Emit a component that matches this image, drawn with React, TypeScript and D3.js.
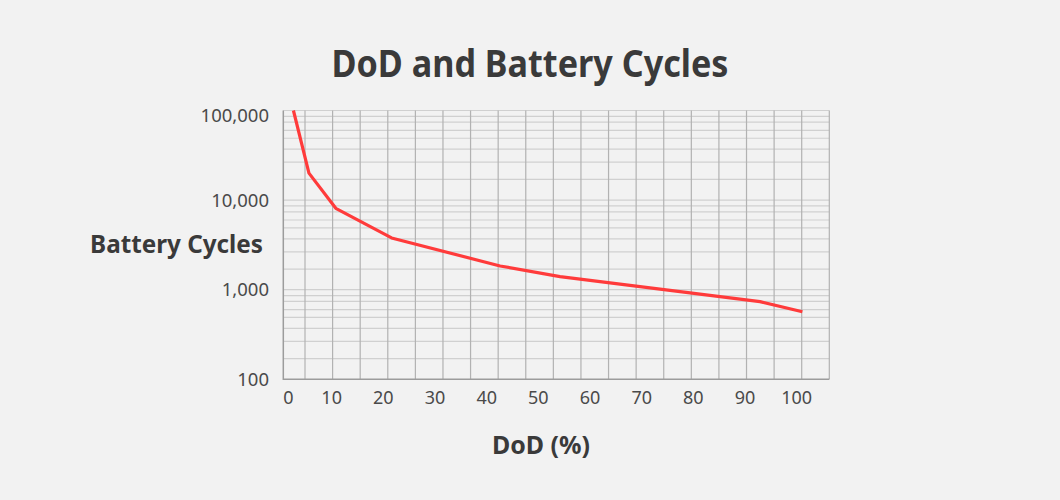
import { useEffect, useRef } from "react";
import * as d3 from "d3";

// Valeurs
const dodValues = [2.6, 5.6, 10.8, 21.6, 42.6, 54.2, 92.9, 101.1];
const cycleValues = [100000, 20000, 8100, 3780, 1840, 1400, 735, 568];
const xTickValues = [0, 10, 20, 30, 40, 50, 60, 70, 80, 90, 100];
const yTickValues = [100, 1000, 10000, 100000];
const minorSteps = [1.7, 2.65, 3.7, 4.9, 6, 7.4, 8.6];
const gridColumns = d3.range(20);

const App = () => {
	const svgRef = useRef<SVGSVGElement>(null);

	useEffect(() => {
		if (!svgRef.current) return;

		const width = 1060;
		const height = 500;
		const frame = { left: 283.3, right: 829.3, top: 110.5, bottom: 379.3 };
		const font = "'Noto Sans', 'Open Sans', sans-serif";

		const svg = d3.select(svgRef.current).attr("width", width).attr("height", height);
		svg.selectAll("*").remove();

		svg.append("rect").attr("width", width).attr("height", height).attr("fill", "#f2f2f2");

		// Échelles
		const xScale = d3.scaleLinear().domain([0, 100]).range([280, 796.7]);
		const yScale = d3.scaleLog().domain([100, 100000]).range([frame.bottom, frame.top]);
		const gridScale = d3.scaleLinear().domain([0, 19]).range([305, frame.right]);

		// Lignes horizontales mineures
		const minorLines: number[] = [];
		yTickValues.slice(0, -1).forEach((decade) => {
			minorSteps.forEach((m) => minorLines.push(decade * m));
		});

		svg
			.append("g")
			.selectAll("line")
			.data([...minorLines, ...yTickValues.slice(1)])
			.enter()
			.append("line")
			.attr("x1", frame.left)
			.attr("x2", frame.right)
			.attr("y1", (d) => yScale(d))
			.attr("y2", (d) => yScale(d))
			.attr("stroke", "#d0d0d0")
			.attr("stroke-width", 1.2);

		// Lignes verticales
		svg
			.append("g")
			.selectAll("line")
			.data(gridColumns)
			.enter()
			.append("line")
			.attr("x1", (d) => gridScale(d))
			.attr("x2", (d) => gridScale(d))
			.attr("y1", frame.top)
			.attr("y2", frame.bottom)
			.attr("stroke", "#b2b2b2")
			.attr("stroke-width", 1.2);

		// Axes
		svg
			.append("path")
			.attr("d", `M${frame.left},${frame.top}V${frame.bottom}H${frame.right}`)
			.attr("fill", "none")
			.attr("stroke", "#9c9c9c")
			.attr("stroke-width", 1.5);

		// Étiquettes Y
		svg
			.append("g")
			.selectAll("text")
			.data(yTickValues)
			.enter()
			.append("text")
			.attr("x", 269)
			.attr("y", (d) => Math.max(yScale(d), frame.top + 4.5))
			.attr("dy", "0.36em")
			.attr("text-anchor", "end")
			.attr("fill", "#4a4a4a")
			.style("font-family", font)
			.style("font-size", "18.5px")
			.text((d) => d3.format(",")(d));

		// Étiquettes X
		svg
			.append("g")
			.selectAll("text")
			.data(xTickValues)
			.enter()
			.append("text")
			.attr("x", (d) => Math.max(xScale(d), frame.left + 5))
			.attr("y", 404)
			.attr("text-anchor", "middle")
			.attr("fill", "#4a4a4a")
			.style("font-family", font)
			.style("font-size", "18px")
			.text((d) => d);

		// Courbe
		const line = d3
			.line<number>()
			.x((d) => xScale(d))
			.y((_d, i) => yScale(cycleValues[i]));

		svg
			.append("path")
			.datum(dodValues)
			.attr("d", line)
			.attr("fill", "none")
			.attr("stroke", "#ff3b3b")
			.attr("stroke-width", 3.2)
			.attr("stroke-linejoin", "round");

		// Titres
		svg
			.append("text")
			.attr("x", 530)
			.attr("y", 76.7)
			.attr("text-anchor", "middle")
			.attr("fill", "#3a3a3a")
			.attr("textLength", 397)
			.attr("lengthAdjust", "spacingAndGlyphs")
			.style("font-family", font)
			.style("font-weight", "bold")
			.style("font-size", "37px")
			.text("DoD and Battery Cycles");

		svg
			.append("text")
			.attr("x", 263)
			.attr("y", 253.3)
			.attr("text-anchor", "end")
			.attr("fill", "#3a3a3a")
			.attr("textLength", 173)
			.attr("lengthAdjust", "spacingAndGlyphs")
			.style("font-family", font)
			.style("font-weight", "bold")
			.style("font-size", "25.5px")
			.text("Battery Cycles");

		svg
			.append("text")
			.attr("x", 541)
			.attr("y", 454.3)
			.attr("text-anchor", "middle")
			.attr("fill", "#3a3a3a")
			.attr("textLength", 98)
			.attr("lengthAdjust", "spacingAndGlyphs")
			.style("font-family", font)
			.style("font-weight", "bold")
			.style("font-size", "25px")
			.text("DoD (%)");
	}, []);

	return (
		<svg
			ref={svgRef}
			style={{ position: "absolute", left: 0, top: 0, display: "block" }}
		></svg>
	);
};

export default App;
